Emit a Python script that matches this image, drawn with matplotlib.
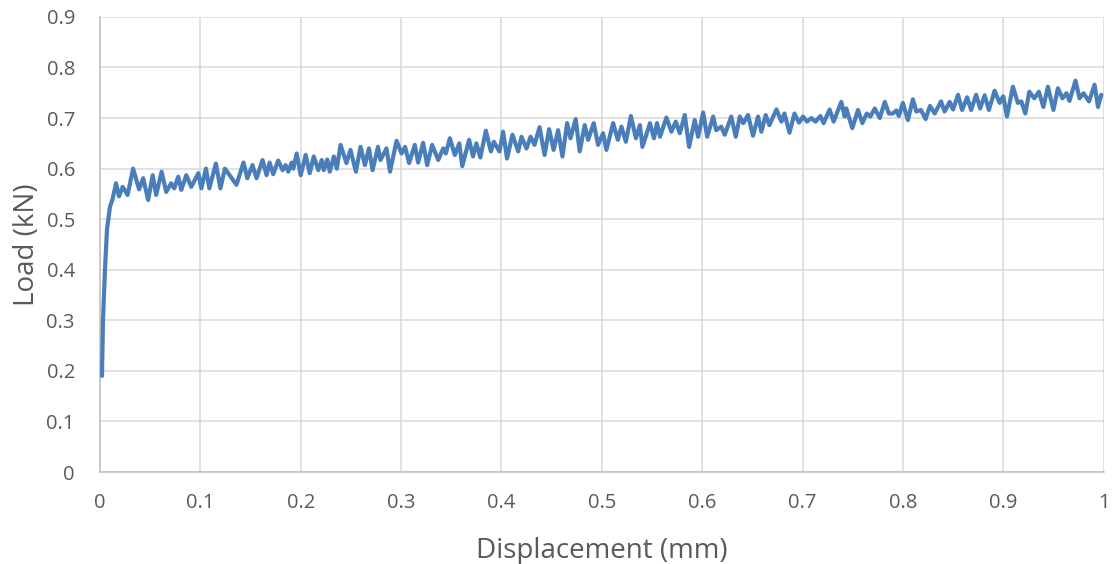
import matplotlib.pyplot as plt

# displacement (mm) and load (kN) (peaks and troughs)
disp = [
    0.002, 0.003, 0.005, 0.007, 0.010, 0.0126, 0.016, 0.019, 0.0226, 0.0275,
    0.033, 0.039, 0.043, 0.048, 0.0525, 0.056, 0.0614, 0.066, 0.071, 0.074,
    0.078, 0.081, 0.086, 0.091, 0.098, 0.101, 0.1056, 0.109, 0.1155, 0.120,
    0.1245, 0.136, 0.143, 0.1468, 0.152, 0.156, 0.162, 0.166, 0.169, 0.1726,
    0.1776, 0.182, 0.185, 0.1876, 0.191, 0.1926, 0.196, 0.200, 0.205, 0.209,
    0.213, 0.2175, 0.221, 0.223, 0.2265, 0.229, 0.233, 0.236, 0.2397, 0.2456,
    0.2496, 0.255, 0.2596, 0.264, 0.268, 0.2716, 0.277, 0.2795, 0.2855, 0.289,
    0.2955, 0.3005, 0.304, 0.308, 0.3137, 0.317, 0.322, 0.326, 0.331, 0.337,
    0.342, 0.3446, 0.3486, 0.3536, 0.358, 0.361, 0.3678, 0.3717, 0.375, 0.379,
    0.3845, 0.3895, 0.3924, 0.398, 0.4017, 0.4056, 0.411, 0.4167, 0.420, 0.425,
    0.429, 0.433, 0.438, 0.443, 0.4475, 0.452, 0.4565, 0.4608, 0.4655, 0.4688,
    0.474, 0.478, 0.483, 0.4864, 0.492, 0.4963, 0.5013, 0.5046, 0.5113, 0.516,
    0.5196, 0.524, 0.529, 0.534, 0.538, 0.5405, 0.548, 0.552, 0.555, 0.558,
    0.5644, 0.5694, 0.5737, 0.5777, 0.5827, 0.587, 0.5926, 0.596, 0.601, 0.605,
    0.611, 0.614, 0.619, 0.6225, 0.629, 0.6335, 0.6375, 0.641, 0.6457, 0.6507,
    0.6557, 0.659, 0.6633, 0.667, 0.674, 0.679, 0.682, 0.687, 0.692, 0.6965,
    0.7005, 0.7045, 0.7088, 0.713, 0.7178, 0.721, 0.727, 0.731, 0.7386, 0.742,
    0.7436, 0.7496, 0.7553, 0.7596, 0.764, 0.7676, 0.772, 0.777, 0.782, 0.786,
    0.790, 0.7935, 0.796, 0.800, 0.805, 0.810, 0.8134, 0.818, 0.8227, 0.827,
    0.8317, 0.838, 0.8416, 0.8466, 0.850, 0.855, 0.859, 0.864, 0.868, 0.873,
    0.877, 0.8815, 0.8857, 0.8914, 0.8964, 0.900, 0.9037, 0.9096, 0.9146, 0.918,
    0.922, 0.926, 0.931, 0.9355, 0.940, 0.9445, 0.950, 0.9545, 0.959, 0.963,
    0.966, 0.972, 0.976, 0.980, 0.9855, 0.991, 0.9944, 0.9977,
]
load = [
    0.19, 0.30, 0.40, 0.48, 0.525, 0.54, 0.571, 0.545, 0.564, 0.548,
    0.600, 0.559, 0.581, 0.538, 0.587, 0.548, 0.594, 0.554, 0.571, 0.561,
    0.584, 0.558, 0.587, 0.564, 0.591, 0.561, 0.600, 0.561, 0.610, 0.561,
    0.600, 0.568, 0.612, 0.581, 0.607, 0.581, 0.617, 0.587, 0.612, 0.589,
    0.616, 0.597, 0.607, 0.594, 0.612, 0.600, 0.630, 0.587, 0.627, 0.591,
    0.624, 0.597, 0.617, 0.597, 0.618, 0.594, 0.624, 0.600, 0.647, 0.611,
    0.637, 0.594, 0.643, 0.607, 0.640, 0.597, 0.643, 0.617, 0.640, 0.594,
    0.655, 0.630, 0.643, 0.611, 0.647, 0.612, 0.651, 0.607, 0.647, 0.617,
    0.640, 0.630, 0.660, 0.627, 0.650, 0.605, 0.657, 0.624, 0.650, 0.622,
    0.675, 0.634, 0.653, 0.634, 0.673, 0.620, 0.667, 0.634, 0.663, 0.640,
    0.663, 0.647, 0.682, 0.627, 0.678, 0.637, 0.676, 0.624, 0.690, 0.660,
    0.698, 0.634, 0.686, 0.657, 0.690, 0.647, 0.670, 0.637, 0.690, 0.657,
    0.683, 0.653, 0.704, 0.660, 0.686, 0.643, 0.690, 0.660, 0.690, 0.663,
    0.701, 0.673, 0.693, 0.670, 0.706, 0.643, 0.696, 0.663, 0.711, 0.663,
    0.703, 0.676, 0.683, 0.667, 0.703, 0.663, 0.703, 0.690, 0.706, 0.665,
    0.703, 0.673, 0.706, 0.686, 0.717, 0.693, 0.709, 0.671, 0.709, 0.691,
    0.703, 0.693, 0.700, 0.693, 0.704, 0.690, 0.717, 0.693, 0.732, 0.703,
    0.719, 0.680, 0.716, 0.690, 0.709, 0.703, 0.719, 0.700, 0.732, 0.709,
    0.709, 0.715, 0.704, 0.730, 0.696, 0.737, 0.713, 0.716, 0.698, 0.724,
    0.709, 0.733, 0.713, 0.732, 0.717, 0.746, 0.716, 0.741, 0.716, 0.746,
    0.719, 0.745, 0.716, 0.754, 0.730, 0.743, 0.703, 0.762, 0.730, 0.733,
    0.709, 0.752, 0.739, 0.752, 0.722, 0.762, 0.716, 0.759, 0.739, 0.749,
    0.734, 0.774, 0.739, 0.749, 0.733, 0.766, 0.722, 0.746,
]

x_ticks = [0, 0.1, 0.2, 0.3, 0.4, 0.5, 0.6, 0.7, 0.8, 0.9, 1]
y_ticks = [0, 0.1, 0.2, 0.3, 0.4, 0.5, 0.6, 0.7, 0.8, 0.9]

plt.rcParams['font.family'] = ['Open Sans', 'DejaVu Sans']
text_grey = '#595959'

fig = plt.figure(figsize=(11.17, 5.64), dpi=100)
ax = fig.add_axes([0.0895, 0.163, 0.8985, 0.807])

ax.plot(disp, load, color='#4a7ebb', linewidth=3.0, solid_joinstyle='round',
        solid_capstyle='round', zorder=3)

ax.set_xlim(0, 1)
ax.set_ylim(0, 0.9)
ax.set_xticks(x_ticks)
ax.set_yticks(y_ticks)
ax.set_xticklabels([f'{t:g}' for t in x_ticks])
ax.set_yticklabels([f'{t:g}' for t in y_ticks])
ax.tick_params(length=0, labelsize=14.5, labelcolor=text_grey)
ax.tick_params(axis='x', pad=15)
ax.tick_params(axis='y', pad=18)

ax.grid(True, color='#d9d9d9', linewidth=1.1)
ax.set_axisbelow(True)
for side in ['top', 'right']:
    ax.spines[side].set_visible(False)
for side in ['left', 'bottom']:
    ax.spines[side].set_color('#bfbfbf')
    ax.spines[side].set_linewidth(1.1)

ax.set_xlabel('Displacement (mm)', fontsize=20, color=text_grey, labelpad=17)
ax.set_ylabel('Load (kN)', fontsize=20, color=text_grey, labelpad=4)

fig.savefig('out.png', dpi=100)
